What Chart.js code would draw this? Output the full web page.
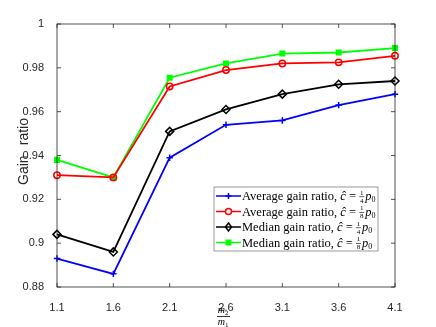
<!DOCTYPE html>
<html>
<head>
<meta charset="utf-8">
<script src="https://cdn.jsdelivr.net/npm/chart.js@4.4.1/dist/chart.umd.min.js"></script>
<style>
  body { margin: 0; background: #fff; }
  #wrap { width: 436px; height: 327px; }
</style>
</head>
<body>
<div id="wrap"><canvas id="gain"></canvas></div>
<script>
// data
const ratios = ['1.1', '1.6', '2.1', '2.6', '3.1', '3.6', '4.1'];
const avgQuarter = [0.893, 0.886, 0.939, 0.954, 0.956, 0.963, 0.968];
const avgEighth  = [0.931, 0.930, 0.9715, 0.979, 0.982, 0.9825, 0.9855];
const medQuarter = [0.904, 0.896, 0.951, 0.961, 0.968, 0.9725, 0.974];
const medEighth  = [0.938, 0.930, 0.9755, 0.982, 0.9865, 0.987, 0.989];
const yTicks = [0.88, 0.9, 0.92, 0.94, 0.96, 0.98, 1];

const axisCol = '#262626';
const sansFont = '"Liberation Sans", Arial, sans-serif';
const serifFont = '"Liberation Serif", "DejaVu Serif", serif';

// legend entries: label text + fraction denominator
const legendItems = [
  { name: 'Average gain ratio, ', den: '4', color: '#0000ff', style: 'cross' },
  { name: 'Average gain ratio, ', den: '8', color: '#ff0000', style: 'circle' },
  { name: 'Median gain ratio, ', den: '4', color: '#000000', style: 'rectRot' },
  { name: 'Median gain ratio, ', den: '8', color: '#00ff00', style: 'rect' }
];

function marker(ctx, style, x, y, color) {
  ctx.save();
  ctx.strokeStyle = color;
  ctx.fillStyle = color;
  ctx.lineWidth = 1.5;
  ctx.beginPath();
  if (style === 'cross') {
    ctx.moveTo(x - 3, y); ctx.lineTo(x + 3, y);
    ctx.moveTo(x, y - 3); ctx.lineTo(x, y + 3);
    ctx.stroke();
  } else if (style === 'circle') {
    ctx.fillStyle = '#fff';
    ctx.arc(x, y, 3, 0, Math.PI * 2);
    ctx.fill(); ctx.stroke();
  } else if (style === 'rectRot') {
    ctx.moveTo(x, y - 4); ctx.lineTo(x + 3, y); ctx.lineTo(x, y + 4); ctx.lineTo(x - 3, y); ctx.closePath();
    ctx.stroke();
  } else {
    ctx.rect(x - 3, y - 3, 6, 6);
    ctx.fill();
  }
  ctx.restore();
}

const decorations = {
  id: 'decorations',
  afterDraw(chart) {
    const ctx = chart.ctx;
    const a = chart.chartArea;
    const xs = chart.scales.x, ys = chart.scales.y;
    ctx.save();

    // box and inward ticks
    ctx.strokeStyle = axisCol;
    ctx.lineWidth = 0.8;
    ctx.strokeRect(a.left, a.top, a.right - a.left, a.bottom - a.top);
    ctx.beginPath();
    ratios.forEach((r, i) => {
      const px = xs.getPixelForValue(i);
      ctx.moveTo(px, a.bottom); ctx.lineTo(px, a.bottom - 4);
      ctx.moveTo(px, a.top); ctx.lineTo(px, a.top + 4);
    });
    yTicks.forEach(v => {
      const py = ys.getPixelForValue(v);
      ctx.moveTo(a.left, py); ctx.lineTo(a.left + 4, py);
      ctx.moveTo(a.right, py); ctx.lineTo(a.right - 4, py);
    });
    ctx.stroke();

    // y axis title, two words drawn separately
    ctx.fillStyle = axisCol;
    ctx.font = '14px ' + sansFont;
    ctx.textBaseline = 'alphabetic';
    ctx.translate(28, 185);
    ctx.rotate(-Math.PI / 2);
    ctx.textAlign = 'left';
    ctx.fillText('Gain', 0, 0);
    ctx.textAlign = 'right';
    ctx.fillText('ratio', 67, 0);
    ctx.setTransform(1, 0, 0, 1, 0, 0);

    // x axis title m2/m1
    const cx = xs.getPixelForValue(3) - 2;
    ctx.fillStyle = '#000';
    ctx.font = 'italic 10px ' + serifFont;
    ctx.textAlign = 'right';
    ctx.textBaseline = 'alphabetic';
    ctx.fillText('m', cx + 1, 313);
    ctx.fillText('m', cx + 1, 325);
    ctx.font = '7px ' + serifFont;
    ctx.textAlign = 'left';
    ctx.fillText('2', cx + 1, 315);
    ctx.fillText('1', cx + 1, 327);
    ctx.fillRect(cx - 7, 316, 13, 0.8);

    // legend box
    const lx = 214, ly = 187, lw = 164, lh = 64;
    ctx.fillStyle = '#fff';
    ctx.fillRect(lx, ly, lw, lh);
    ctx.strokeStyle = '#7f7f7f';
    ctx.lineWidth = 0.8;
    ctx.strokeRect(lx, ly, lw, lh);
    legendItems.forEach((it, i) => {
      const y = ly + 9 + i * 15.5;
      ctx.strokeStyle = it.color;
      ctx.lineWidth = 1.5;
      ctx.beginPath();
      ctx.moveTo(lx + 2, y); ctx.lineTo(lx + 27, y);
      ctx.stroke();
      marker(ctx, it.style, lx + 14.5, y, it.color);

      ctx.fillStyle = '#000';
      ctx.textAlign = 'left';
      ctx.textBaseline = 'middle';
      ctx.font = '12.5px ' + serifFont;
      let x = lx + 28;
      ctx.fillText(it.name, x, y + 1);
      x += ctx.measureText(it.name).width;
      ctx.font = 'italic 12.5px ' + serifFont;
      ctx.fillText('ĉ', x, y + 1);
      x += ctx.measureText('ĉ').width;
      ctx.font = '12.5px ' + serifFont;
      ctx.fillText(' = ', x, y + 1);
      x += ctx.measureText(' = ').width;
      ctx.font = '7px ' + serifFont;
      ctx.textAlign = 'center';
      ctx.fillText('1', x + 2.5, y - 3);
      ctx.fillText(it.den, x + 2.5, y + 5);
      ctx.fillRect(x, y + 0.5, 5, 0.6);
      x += 6;
      ctx.textAlign = 'left';
      ctx.font = 'italic 12.5px ' + serifFont;
      ctx.fillText('p', x, y + 1);
      x += ctx.measureText('p').width;
      ctx.font = '8px ' + serifFont;
      ctx.fillText('0', x, y + 4);
    });
    ctx.restore();
  }
};

function series(label, data, color, style, fill) {
  return {
    label: label,
    data: data,
    borderColor: color,
    backgroundColor: fill,
    borderWidth: 1.8,
    pointStyle: style,
    pointRadius: style === 'rectRot' ? 4 : 3.2,
    pointBorderWidth: 1.5,
    pointBorderColor: color,
    pointBackgroundColor: fill,
    tension: 0
  };
}

new Chart(document.getElementById('gain'), {
  type: 'line',
  data: {
    labels: ratios,
    datasets: [
      series('Average gain ratio, c = 1/4 p0', avgQuarter, '#0000ff', 'cross', '#0000ff'),
      series('Average gain ratio, c = 1/8 p0', avgEighth, '#ff0000', 'circle', 'rgba(0,0,0,0)'),
      series('Median gain ratio, c = 1/4 p0', medQuarter, '#000000', 'rectRot', 'rgba(0,0,0,0)'),
      series('Median gain ratio, c = 1/8 p0', medEighth, '#00ff00', 'rect', '#00ff00')
    ]
  },
  options: {
    responsive: true,
    maintainAspectRatio: false,
    animation: false,
    layout: { padding: { top: 24, right: 41, left: 0, bottom: 0 } },
    plugins: { legend: { display: false }, tooltip: { enabled: false } },
    scales: {
      x: {
        offset: false,
        grid: { display: false },
        border: { display: false },
        ticks: { color: axisCol, font: { family: sansFont, size: 11 }, padding: 6, maxRotation: 0 },
        afterFit(s) { s.height = 40; }
      },
      y: {
        min: 0.88,
        max: 1,
        grid: { display: false },
        border: { display: false },
        ticks: {
          stepSize: 0.02,
          color: axisCol,
          font: { family: sansFont, size: 11 },
          padding: 5,
          callback: v => String(parseFloat(v.toFixed(2)))
        },
        afterFit(s) { s.width = 57; }
      }
    }
  },
  plugins: [decorations]
});
</script>
</body>
</html>
